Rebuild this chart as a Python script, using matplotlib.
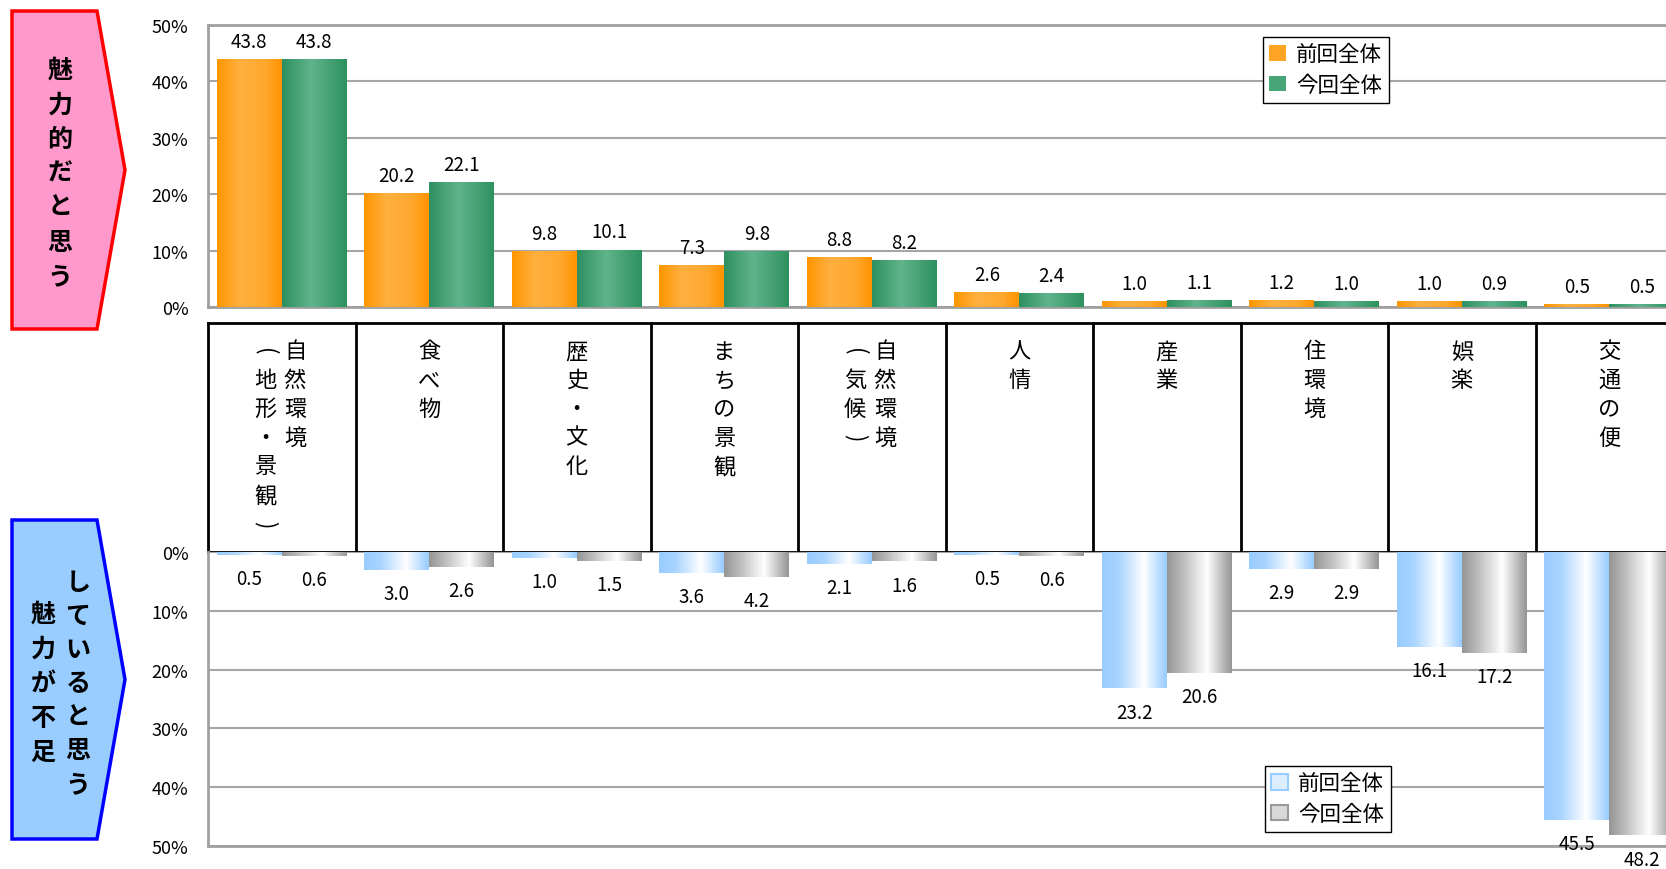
import numpy as np
import matplotlib.pyplot as plt
from matplotlib.colors import LinearSegmentedColormap
from matplotlib.patches import Polygon, Patch

plt.rcParams['font.family'] = ['Noto Sans CJK JP', 'DejaVu Sans']

# データ
categories = ['自然環境（地形・景観）', '食べ物', '歴史・文化', 'まちの景観', '自然環境（気候）',
              '人情', '産業', '住環境', '娯楽', '交通の便']
prev_attract = [43.8, 20.2, 9.8, 7.3, 8.8, 2.6, 1.0, 1.2, 1.0, 0.5]   # 魅力的だと思う 前回
curr_attract = [43.8, 22.1, 10.1, 9.8, 8.2, 2.4, 1.1, 1.0, 0.9, 0.5]  # 魅力的だと思う 今回
prev_lack = [0.5, 3.0, 1.0, 3.6, 2.1, 0.5, 23.2, 2.9, 16.1, 45.5]     # 魅力が不足 前回
curr_lack = [0.6, 2.6, 1.5, 4.2, 1.6, 0.6, 20.6, 2.9, 17.2, 48.2]     # 魅力が不足 今回
series_names = ['前回全体', '今回全体']
y_ticks = [0, 10, 20, 30, 40, 50]
top_title = '魅力的だと思う'
bot_title_a = 'していると思う'
bot_title_b = '魅力が不足'

W, H = 1666, 870
fig = plt.figure(figsize=(W / 100, H / 100), dpi=100)


def fx(px):
    return px / W


def fy(py):
    return 1 - py / H


plot_w = 1475
ax_top = fig.add_axes([fx(208), fy(308), plot_w / W, (308 - 26) / H])
ax_lab = fig.add_axes([fx(208), fy(553), plot_w / W, (553 - 324) / H])
ax_bot = fig.add_axes([fx(208), fy(847), plot_w / W, (847 - 553) / H])

cm_orange = LinearSegmentedColormap.from_list('o', [(0, '#FF9600'), (0.35, '#FFB040'), (0.75, '#FFA82E'), (1, '#FF9300')])
cm_green = LinearSegmentedColormap.from_list('g', [(0, '#2E9060'), (0.45, '#60B48B'), (1, '#2E9160')])
cm_blue = LinearSegmentedColormap.from_list('b', [(0, '#99CCFF'), (0.25, '#A8D4FF'), (0.65, '#FFFFFF'), (0.9, '#B5DAFF'), (1, '#99CCFF')])
cm_gray = LinearSegmentedColormap.from_list('k', [(0, '#969696'), (0.2, '#B5B5B5'), (0.62, '#FFFFFF'), (0.9, '#B0B0B0'), (1, '#969696')])


def grad_bar(ax, x0, w, h, cmap):
    img = cmap(np.linspace(0, 1, 100))[None, :, :]
    ax.imshow(img, extent=[x0, x0 + w, 0, h], aspect='auto', interpolation='bilinear', zorder=3)


x = np.arange(len(categories))
bw = 0.44

for i in x:
    grad_bar(ax_top, i - bw, bw, prev_attract[i], cm_orange)
    grad_bar(ax_top, i, bw, curr_attract[i], cm_green)
    grad_bar(ax_bot, i - bw, bw, prev_lack[i], cm_blue)
    grad_bar(ax_bot, i, bw, curr_lack[i], cm_gray)
    for xc, v in ((i - bw / 2, prev_attract[i]), (i + bw / 2, curr_attract[i])):
        ax_top.annotate(f'{v:.1f}', (xc, v), xytext=(0, 13), textcoords='offset points',
                        ha='center', va='center', fontsize=13.5)
    for xc, v in ((i - bw / 2, prev_lack[i]), (i + bw / 2, curr_lack[i])):
        ax_bot.annotate(f'{v:.1f}', (xc, v), xytext=(0, -17), textcoords='offset points',
                        ha='center', va='center', fontsize=13.5)

for ax, lim in ((ax_top, (0, 50)), (ax_bot, (50, 0))):
    ax.set_xlim(-0.5, 9.5)
    ax.set_ylim(*lim)
    ax.set_yticks(y_ticks)
    ax.set_yticklabels([f'{t}%' for t in y_ticks])
    ax.set_xticks([])
    ax.tick_params(axis='y', length=0, pad=14, labelsize=13)
    ax.grid(axis='y', color='#A6A6A6', lw=1.5, zorder=0)
    ax.set_axisbelow(True)
    ax.spines['right'].set_visible(False)
    for s in ('left', 'bottom', 'top'):
        ax.spines[s].set_color('#A0A0A0')
        ax.spines[s].set_linewidth(2)
ax_bot.spines['top'].set_visible(False)

# 項目ラベルの枠
ax_lab.set_xlim(-0.5, 9.5)
ax_lab.set_ylim(229, 0)
ax_lab.axis('off')
for b in np.arange(-0.5, 10.5):
    ax_lab.plot([b, b], [0, 229], color='k', lw=2, clip_on=False)
ax_lab.plot([-0.5, 9.5], [0, 0], color='k', lw=2, clip_on=False)
ax_lab.plot([-0.5, 9.5], [229, 229], color='k', lw=2, clip_on=False)

for i, lab in enumerate(categories):
    if '（' in lab:
        main, sub = lab.split('（')
        cols = [(i + 0.09, main), (i - 0.112, '（' + sub)]
    else:
        cols = [(i, lab)]
    for cx, txt in cols:
        for k, ch in enumerate(txt):
            yk = 28 + k * 28.7
            if ch in '（）':
                # 縦書きの括弧
                ch = '(' if ch == '（' else ')'
                ax_lab.text(cx, yk, ch, ha='center', va='center', fontsize=16, rotation=-90)
            else:
                ax_lab.text(cx, yk, ch, ha='center', va='center', fontsize=16)

# 凡例
h_top = [Patch(facecolor='#FFA424', edgecolor='none'), Patch(facecolor='#48A577', edgecolor='none')]
h_bot = [Patch(facecolor='#DDEEFF', edgecolor='#99CCFF', lw=1.5), Patch(facecolor='#D8D8D8', edgecolor='#999999', lw=1.5)]
for handles, (lx, ly) in ((h_top, (1263, 38)), (h_bot, (1265, 767))):
    leg = fig.legend(handles, series_names, loc='upper left', bbox_to_anchor=(fx(lx), fy(ly)),
                     bbox_transform=fig.transFigure, frameon=True, fancybox=False,
                     edgecolor='black', framealpha=1, fontsize=15.5, handlelength=0.75,
                     handleheight=0.75, handletextpad=0.5, labelspacing=0.4, borderpad=0.3,
                     borderaxespad=0)
    leg.get_frame().set_linewidth(1.0)

# 左側の矢印
def arrow(top, bottom, face, edge):
    mid = (top + bottom) / 2
    pts = [(12, top), (97, top), (125, mid), (97, bottom), (12, bottom)]
    fig.add_artist(Polygon([(fx(a), fy(b)) for a, b in pts], closed=True, transform=fig.transFigure,
                           facecolor=face, edgecolor=edge, lw=2.5))


def vtext(xp, y0, step, txt):
    for k, ch in enumerate(txt):
        fig.text(fx(xp), fy(y0 + k * step), ch, ha='center', va='center',
                 fontsize=18, fontweight='bold')


arrow(12, 330, '#FF99CC', '#FF0000')
arrow(521, 840, '#99CCFF', '#0000FF')
vtext(60, 71, 34.3, top_title)
vtext(78, 583, 33.7, bot_title_a)
vtext(43, 615, 34.5, bot_title_b)

fig.savefig('out.png', dpi=100)
